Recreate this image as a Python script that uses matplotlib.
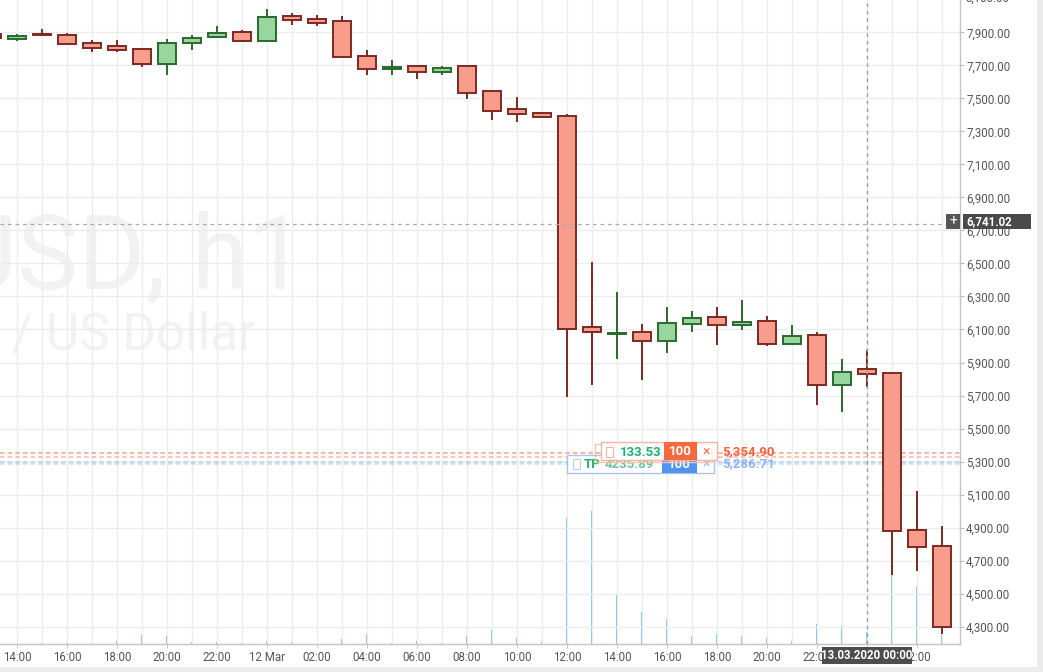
import matplotlib
matplotlib.use("Agg")
import matplotlib.pyplot as plt
import matplotlib.dates as mdates
from matplotlib.patches import Rectangle
from matplotlib.ticker import FuncFormatter, FixedLocator
import numpy as np
import pandas as pd

plt.rcParams['font.family'] = ['Roboto', 'DejaVu Sans']

# ---------------- data ----------------
times = pd.date_range('2020-03-11 13:00', '2020-03-13 03:00', freq='h')
opens = [7890, 7862, 7888, 7886, 7838, 7820, 7801, 7705, 7838, 7874, 7904,
         7850, 8001, 7983, 7971, 7759, 7680, 7698, 7662, 7694, 7543, 7438, 7414,
         7392, 6113, 6072, 6083, 6030, 6133, 6176, 6126, 6153, 6011, 6069, 5764,
         5861, 5837, 4883, 4786]
highs = [7892, 7888, 7922, 7894, 7856, 7852, 7803, 7858, 7882, 7936, 7912,
         8039, 8019, 8007, 7997, 7791, 7731, 7700, 7694, 7696, 7545, 7509, 7414,
         7408, 6507, 6325, 6132, 6235, 6210, 6235, 6277, 6180, 6126, 6085, 5922,
         5976, 5837, 5123, 4911]
lows = [7862, 7850, 7880, 7826, 7781, 7781, 7690, 7642, 7791, 7866, 7841,
        7850, 7947, 7938, 7753, 7642, 7642, 7617, 7642, 7496, 7368, 7357, 7384,
        5694, 5763, 5920, 5793, 5956, 6083, 6005, 6095, 6002, 6011, 5642, 5601,
        5752, 4615, 4639, 4258]
closes = [7866, 7880, 7881, 7832, 7807, 7795, 7705, 7838, 7868, 7898, 7850,
          7995, 7977, 7959, 7753, 7680, 7692, 7662, 7686, 7535, 7424, 7408, 7384,
          6103, 6087, 6076, 6032, 6138, 6172, 6127, 6144, 6011, 6063, 5764, 5845,
          5831, 4877, 4782, 4299]
volumes = [2, 0, 1.3, 1.3, 1.3, 3.3, 9.3, 8.3, 2.3, 2.3, 1.3,
           3.3, 2.3, 0, 5.3, 10.3, 1.3, 3.3, 1.3, 8.3, 14.3, 6.3, 2,
           126, 133, 49, 32, 25, 8, 10, 8, 6, 3, 20, 18,
           12, 69, 57, 10]
price_ticks = [4300, 4500, 4700, 4900, 5100, 5300, 5500, 5700, 5900, 6100,
               6300, 6500, 6700, 6900, 7100, 7300, 7500, 7700, 7900]
crosshair_price = 6741.02
crosshair_time = pd.Timestamp('2020-03-13 00:00')
order_price = 5354.90
order_price2 = 5325.0
tp_price = 5300.0
tp_price2 = 5286.71

# ---------------- figure ----------------
W, H = 1043, 672
fig = plt.figure(figsize=(W / 100, H / 100), dpi=100)
fig.patch.set_facecolor('white')
ax = fig.add_axes([0, (H - 644) / H, 960 / W, 644 / H])
ax.set_facecolor('white')

x = mdates.date2num(times)
ref = mdates.date2num(pd.Timestamp('2020-03-12 12:00'))
hour = 1 / 24
ax.set_xlim(ref - 22.68 * hour, ref + 15.72 * hour)
ax.set_ylim(4195.2, 8095.6)

# volume on twin axis
axv = ax.twinx()
axv.set_ylim(0, 644)
axv.axis('off')
axv.vlines(x, 0, volumes, colors='#74c3ee', lw=1.4, zorder=1)
ax.set_zorder(axv.get_zorder() + 1)
ax.patch.set_visible(False)
axv.patch.set_visible(True)
axv.patch.set_facecolor('white')

red_fill, red_edge = '#f89c8c', '#7a2a22'
grn_fill, grn_edge = '#98d6a0', '#2a6a2c'
fills = [grn_fill if c >= o else red_fill for o, c in zip(opens, closes)]
edges = [grn_edge if c >= o else red_edge for o, c in zip(opens, closes)]

ax.vlines(x, lows, highs, colors=edges, lw=1.4, zorder=3)
bottoms = np.minimum(opens, closes)
heights = np.abs(np.array(closes) - np.array(opens))
ax.bar(x, heights, bottom=bottoms, width=0.73 * hour, color=fills,
       edgecolor=edges, linewidth=1.4, zorder=4)

# order lines
ax.axhline(order_price, color='#f48a66', lw=1.1, ls=(0, (3, 2)), alpha=0.8, zorder=2)
ax.axhline(order_price2, color='#f48a66', lw=1.1, ls=(0, (3, 2)), alpha=0.6, zorder=2)
ax.axhline(tp_price, color='#8ab3f0', lw=1.1, ls=(0, (3, 2)), alpha=0.6, zorder=2)
ax.axhline(tp_price2, color='#8ab3f0', lw=1.1, ls=(0, (3, 2)), alpha=0.45, zorder=2)

# crosshair
ax.axvline(mdates.date2num(crosshair_time), color='#9a9a9a', lw=0.9, ls=(0, (3, 3)), zorder=5)
ax.axhline(crosshair_price, color='#aaaaaa', lw=0.9, ls=(0, (3, 3)), zorder=5)

# grid / ticks
ax.xaxis.set_major_locator(mdates.HourLocator(byhour=range(0, 24, 2)))
ax.xaxis.set_minor_locator(mdates.HourLocator(byhour=range(1, 24, 2)))


def xfmt(v, pos):
    d = mdates.num2date(v)
    if d.hour == 0:
        return f"{d.day} Mar"
    return d.strftime('%H:%M')


ax.xaxis.set_major_formatter(FuncFormatter(xfmt))
ax.yaxis.set_major_locator(FixedLocator(price_ticks))
ax.yaxis.set_major_formatter(FuncFormatter(lambda v, p: f"{v:,.2f}"))
ax.yaxis.tick_right()
ax.grid(True, which='both', axis='x', color='#ececec', lw=1.0, zorder=0)
ax.grid(True, which='major', axis='y', color='#ececec', lw=1.0, zorder=0)
ax.set_axisbelow(True)
ax.tick_params(axis='x', which='major', colors='#cccccc', labelcolor='#555555',
               labelsize=8.3, length=3, pad=2)
ax.tick_params(axis='x', which='minor', length=0)
ax.tick_params(axis='y', colors='#bbbbbb', labelcolor='#555555', labelsize=8.3,
               length=3, pad=1.5)
for s in ['top', 'left']:
    ax.spines[s].set_visible(False)
for s in ['right', 'bottom']:
    ax.spines[s].set_color('#c4c4c4')
    ax.spines[s].set_linewidth(1.0)

# watermark
ax.text(306 / 960, 1 - 288 / 644, 'BTCUSD, h1', transform=ax.transAxes,
        ha='right', va='baseline', fontsize=74, color='#f2f2f2', zorder=0.1)
ax.text(255 / 960, 1 - 350 / 644, 'Bitcoin / US Dollar', transform=ax.transAxes,
        ha='right', va='baseline', fontsize=37, color='#f2f2f2', zorder=0.1)


def fx(px):
    return px / W


def fy(py):
    return 1 - py / H


def rect(x0, y0, x1, y1, z, **kw):
    fig.add_artist(Rectangle((fx(x0), fy(y1)), fx(x1) - fx(x0), fy(y0) - fy(y1),
                             transform=fig.transFigure, zorder=z, **kw))


def ftext(px, py, s, z, **kw):
    fig.text(fx(px), fy(py), s, zorder=z, **kw)


# blue TP widget (behind)
rect(567, 455, 714, 473, 20, facecolor='white', edgecolor='#a9c4f0', lw=1.0)
rect(573, 459, 580, 469, 21, facecolor='none', edgecolor='#b8cff2', lw=0.8)
ftext(584, 464, 'TP', 21, color='#2fae72', fontsize=9.5, fontweight='bold', va='center')
ftext(605, 464, '4235.89', 21, color='#3cb079', fontsize=9.5, fontweight='bold', va='center', alpha=0.75)
rect(662, 455, 697, 473, 21, facecolor='#3f86ee', edgecolor='none', alpha=0.9)
ftext(679.5, 464, '100', 22, color='white', fontsize=9.5, fontweight='bold', va='center', ha='center')
ftext(706, 464, '×', 22, color='#8fb3f0', fontsize=10, va='center', ha='center')
ftext(722, 464, '5,286.71', 22, color='#7fa8f0', fontsize=9.5, fontweight='bold', va='center', alpha=0.85)

# red order widget (front)
rect(595, 444, 712, 462, 23, facecolor='none', edgecolor='#f7c2b4', lw=1.0)
rect(601, 442, 717, 460, 24, facecolor='white', edgecolor='#f5ab98', lw=1.0, alpha=0.88)
rect(606, 447, 613, 457, 25, facecolor='none', edgecolor='#f5b8a8', lw=0.8)
ftext(620, 452, '133.53', 25, color='#22b07a', fontsize=9.5, fontweight='bold', va='center')
rect(664, 442, 697, 460, 25, facecolor='#f4693e', edgecolor='none')
ftext(680.5, 451.5, '100', 26, color='white', fontsize=9.5, fontweight='bold', va='center', ha='center')
ftext(706, 451.5, '×', 26, color='#f2734d', fontsize=10, va='center', ha='center')
ftext(722, 452, '5,354.90', 26, color='#f0643a', fontsize=9.5, fontweight='bold', va='center')

# crosshair price label
rect(946, 214, 960, 229, 30, facecolor='#555555', edgecolor='none')
ftext(953, 221.5, '+', 31, color='white', fontsize=10, va='center', ha='center')
rect(963, 214, 1031, 229, 30, facecolor='#4a4a4a', edgecolor='none')
ftext(966, 221.5, '6,741.02', 31, color='white', fontsize=8.3, fontweight='bold', va='center')

# crosshair time label
rect(822, 647, 912, 664, 30, facecolor='#4d4d4d', edgecolor='none')
ftext(867, 655.5, '13.03.2020 00:00', 31, color='white', fontsize=8.3, fontweight='bold',
      va='center', ha='center')

# partially visible top tick label
ftext(965, -2, '8,100.00', 10, color='#555555', fontsize=8.3, va='center')

# outer grey frame strips
rect(1037, 0, 1043, 672, 40, facecolor='#ebebeb', edgecolor='none')
rect(0, 667, 1043, 672, 40, facecolor='#ebebeb', edgecolor='none')

fig.savefig('out.png', dpi=100, facecolor='white')
